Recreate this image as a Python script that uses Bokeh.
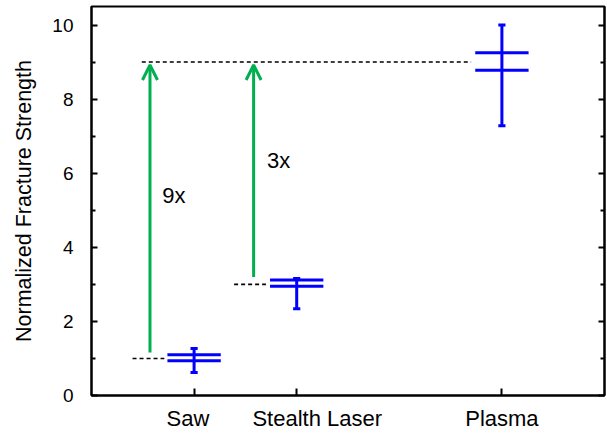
from bokeh.plotting import figure
from bokeh.models import LinearAxis, FixedTicker, Range1d, Arrow, OpenHead, Label
from bokeh.embed import file_html
from bokeh.resources import INLINE

# ---- data ----
categories = ["Saw", "Stealth Laser", "Plasma"]
cat_x = [1, 2, 4]
cat_label_x = [0.94, 2.20, 4.00]
upper_line = [1.10, 3.12, 9.25]
lower_line = [0.94, 2.95, 8.78]
whisker_hi = [1.27, 3.16, 10.0]
whisker_lo = [0.62, 2.34, 7.28]

ref_y = [1, 3, 9]
ref_x0 = [0.40, 1.39, 0.49]
ref_x1 = [0.71, 1.70, 3.70]

arrow_x = [0.57, 1.58]
arrow_y0 = [1.16, 3.20]
arrow_y1 = [8.92, 8.92]
factor_text = ["9x", "3x"]
factor_x = [0.69, 1.71]
factor_y = [5.39, 6.33]

y_major = [0, 2, 4, 6, 8, 10]
y_minor = [1, 3, 5, 7, 9]

FONT = "Liberation Sans"
BLUE = "#0000FF"
GREEN = "#00B050"

p = figure(width=607, height=433, output_backend="svg", toolbar_location=None,
           x_range=Range1d(0, 5), y_range=Range1d(0, 10.5),
           min_border_left=91, min_border_right=3, min_border_top=6,
           min_border_bottom=36, x_axis_location="below", y_axis_location="left")
p.xgrid.visible = False
p.ygrid.visible = False
p.outline_line_color = "black"
p.outline_line_width = 2
p.background_fill_color = "white"
p.border_fill_color = "white"

# x axis: inward ticks at the categories, labels on a second axis below
xa = p.xaxis[0]
xa.ticker = FixedTicker(ticks=cat_x)
xa.major_label_overrides = {x: "" for x in cat_x}
xa.major_label_text_font_size = "0px"
xa.major_label_standoff = 0
xa.major_tick_in = 7
xa.major_tick_out = 0
xa.minor_tick_line_color = None
xa.axis_line_width = 2
xa.major_tick_line_width = 2

xl = LinearAxis(ticker=FixedTicker(ticks=cat_label_x))
xl.major_label_overrides = {x: c for x, c in zip(cat_label_x, categories)}
xl.axis_line_color = None
xl.major_tick_line_color = None
xl.minor_tick_line_color = None
xl.major_tick_in = 0
xl.major_tick_out = 0
xl.major_label_text_font = FONT
xl.major_label_text_font_size = "22px"
xl.major_label_text_color = "black"
xl.major_label_standoff = 10
p.add_layout(xl, "below")

# y axis
ya = p.yaxis[0]
ya.ticker = FixedTicker(ticks=y_major, minor_ticks=y_minor)
ya.major_tick_in = 6
ya.major_tick_out = 0
ya.minor_tick_in = 4
ya.minor_tick_out = 0
ya.axis_line_width = 2
ya.major_tick_line_width = 2
ya.minor_tick_line_width = 2
ya.major_label_text_font = FONT
ya.major_label_text_font_size = "19px"
ya.major_label_text_color = "black"
ya.major_label_standoff = 18
ya.axis_label = "Normalized Fracture Strength"
ya.axis_label_text_font = FONT
ya.axis_label_text_font_size = "21.5px"
ya.axis_label_text_font_style = "normal"
ya.axis_label_text_color = "black"
ya.axis_label_standoff = 13

# right axis: inward ticks, no labels
ra = LinearAxis(ticker=FixedTicker(ticks=y_major, minor_ticks=y_minor))
ra.major_label_overrides = {t: "" for t in y_major}
ra.major_tick_in = 6
ra.major_tick_out = 0
ra.minor_tick_in = 4
ra.minor_tick_out = 0
ra.axis_line_width = 2
ra.major_tick_line_width = 2
ra.minor_tick_line_width = 2
ra.major_label_standoff = 0
p.add_layout(ra, "right")

# dashed reference lines
p.segment(x0=ref_x0, y0=ref_y, x1=ref_x1, y1=ref_y, line_color="black",
          line_width=1.6, line_dash="4 3")

# blue boxes
hw = 0.26
cap = 0.035
p.segment(x0=[x - hw for x in cat_x], y0=upper_line, x1=[x + hw for x in cat_x], y1=upper_line,
          line_color=BLUE, line_width=3)
p.segment(x0=[x - hw for x in cat_x], y0=lower_line, x1=[x + hw for x in cat_x], y1=lower_line,
          line_color=BLUE, line_width=3)
p.segment(x0=cat_x, y0=whisker_lo, x1=cat_x, y1=whisker_hi, line_color=BLUE, line_width=3)
p.segment(x0=[x - cap for x in cat_x], y0=whisker_hi, x1=[x + cap for x in cat_x], y1=whisker_hi,
          line_color=BLUE, line_width=3)
p.segment(x0=[x - cap for x in cat_x], y0=whisker_lo, x1=[x + cap for x in cat_x], y1=whisker_lo,
          line_color=BLUE, line_width=3)

# green arrows
for ax, y0, y1 in zip(arrow_x, arrow_y0, arrow_y1):
    p.add_layout(Arrow(x_start=ax, y_start=y0, x_end=ax, y_end=y1,
                       line_color=GREEN, line_width=3,
                       end=OpenHead(size=15, line_color=GREEN, line_width=3)))

for t, tx, ty in zip(factor_text, factor_x, factor_y):
    p.add_layout(Label(x=tx, y=ty, text=t, text_font=FONT, text_font_size="22px",
                       text_color="black", text_baseline="middle", text_align="left"))

open("out.html", "w").write(file_html(p, INLINE))
